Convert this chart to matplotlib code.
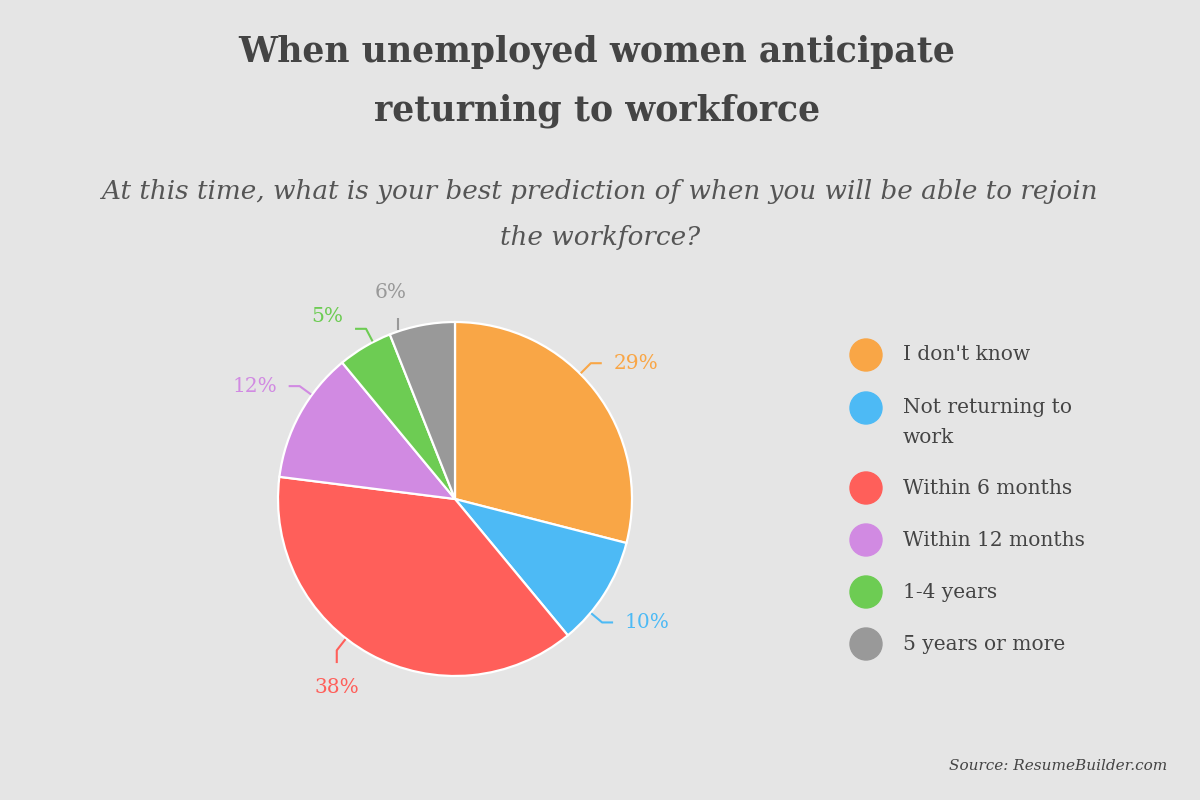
import numpy as np
import matplotlib
matplotlib.use("Agg")
import matplotlib.pyplot as plt
from matplotlib.patches import Circle

# ---- data ----
categories = ["I don't know", "Not returning to\nwork", "Within 6 months",
              "Within 12 months", "1-4 years", "5 years or more"]
values = [29, 10, 38, 12, 5, 6]
colors = ["#F9A646", "#4DBAF5", "#FF5F5A", "#D18AE2", "#6DCC53", "#999999"]

title = "When unemployed women anticipate\nreturning to workforce"
subtitle = "At this time, what is your best prediction of when you will be able to rejoin\nthe workforce?"
source = "Source: ResumeBuilder.com"

# ---- layout (label placement) ----
label_angle_shift = [7.2, -7.6, -9.2, -7.2, -3.0, 7.8]   # degrees from mid-angle
leader_dir = ["h", "h", "v", "h", "h", "v"]
radial_len = [0.08, 0.08, 0.08, 0.08, 0.08, 0.0]
label_dy = [0, 0, 0, 0, 0.07, 0]

BG = "#E5E5E5"
TXT = "#444444"
FONT = "DejaVu Serif"

fig = plt.figure(figsize=(12, 8), dpi=100, facecolor=BG)

fig.text(0.4975, 1 - 81 / 800, title, ha="center", va="center", fontsize=25,
         fontweight="bold", color=TXT, family=FONT, linespacing=1.9)
fig.text(0.5, 1 - 214 / 800, subtitle, ha="center", va="center", fontsize=18.9,
         style="italic", color="#555555", family=FONT, linespacing=2.05)
fig.text(1167 / 1200, 1 - 766 / 800, source, ha="right", va="center", fontsize=11,
         style="italic", color=TXT, family=FONT)

# pie axes: center (455, 499) px, radius 177 px
L = 300 / 177
ax = fig.add_axes([155 / 1200, 1 / 800, 600 / 1200, 600 / 800])
ax.axis("off")

wedges, _ = ax.pie(values, colors=colors, startangle=90, counterclock=False,
                   radius=1.0, wedgeprops=dict(edgecolor="white", linewidth=1.6))
ax.set_xlim(-L, L)
ax.set_ylim(-L, L)
ax.set_aspect("equal")

total = float(sum(values))
start = 90.0
for i, v in enumerate(values):
    span = 360.0 * v / total
    mid = start - span / 2
    start -= span
    th = np.deg2rad(mid + label_angle_shift[i])
    c, s = np.cos(th), np.sin(th)
    p0 = np.array([c, s]) * 1.005
    p1 = np.array([c, s]) * (1.005 + radial_len[i])
    if leader_dir[i] == "h":
        sg = 1 if c >= 0 else -1
        p2 = p1 + np.array([sg * 0.062, 0])
        tx, ty = p2[0] + sg * 0.065, p2[1] + label_dy[i]
        ha = "left" if sg > 0 else "right"
    else:
        sg = 1 if s >= 0 else -1
        p2 = p1 + np.array([0, sg * 0.072])
        tx, ty = p2[0] - (0.045 if radial_len[i] == 0 else 0), p2[1] + sg * 0.14
        ha = "center"
    ax.plot([p0[0], p1[0], p2[0]], [p0[1], p1[1], p2[1]], color=colors[i],
            lw=1.5, solid_capstyle="butt", clip_on=False)
    ax.text(tx, ty, f"{v}%", color=colors[i], fontsize=14.5, family=FONT,
            ha=ha, va="center")

# legend
legend_y = [355, 408, 488, 540, 592, 644]
for i, cat in enumerate(categories):
    y = 1 - legend_y[i] / 800
    fig.patches.append(Circle((866 / 100, y * 8), 16 / 100,
                              transform=fig.dpi_scale_trans, color=colors[i]))
    if "\n" in cat:
        fig.text(903 / 1200, y - 14.5 / 800, cat, ha="left", va="center",
                 fontsize=14.5, color=TXT, family=FONT, linespacing=1.74)
    else:
        fig.text(903 / 1200, y, cat, ha="left", va="center",
                 fontsize=14.5, color=TXT, family=FONT)

fig.savefig("out.png", dpi=100, facecolor=BG)
